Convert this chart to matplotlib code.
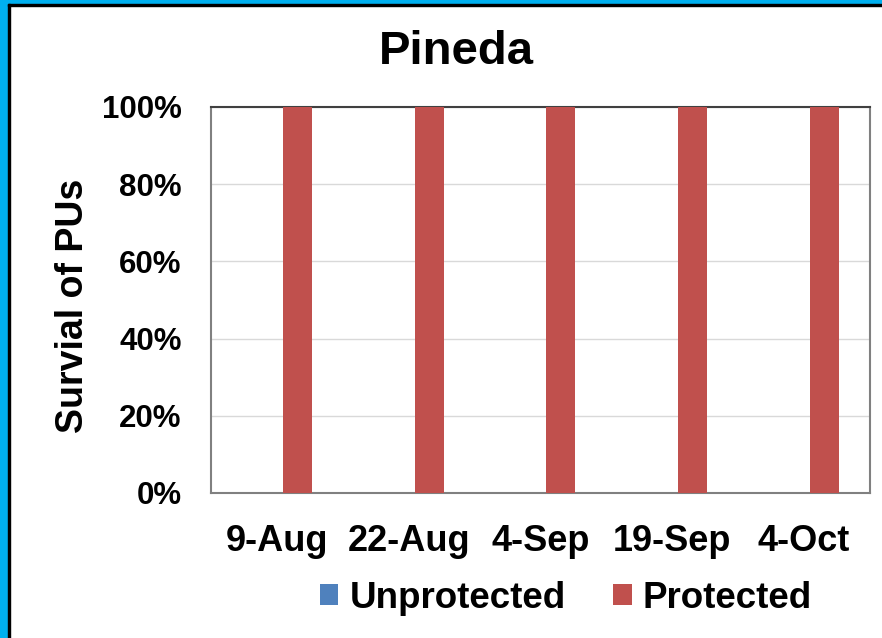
import numpy as np
import matplotlib

matplotlib.use("Agg")
from matplotlib import pyplot as plt
from matplotlib.patches import Rectangle
from matplotlib.ticker import PercentFormatter

dates = ["9-Aug", "22-Aug", "4-Sep", "19-Sep", "4-Oct"]
unprotected = [0, 0, 0, 0, 0]
protected = [100, 100, 100, 100, 100]

plt.rcParams['font.family'] = ['Liberation Sans', 'DejaVu Sans']
plt.rcParams['font.weight'] = 'bold'

fig = plt.figure(figsize=(8.82, 6.38), dpi=100)
W, H = 882, 638

# frame: cyan + black line on left and top only
fig.patches.append(Rectangle((0, 0), 8 / W, 1, transform=fig.transFigure,
                             color='#00b0f0', zorder=0))
fig.patches.append(Rectangle((0, 1 - 4 / H), 1, 4 / H, transform=fig.transFigure,
                             color='#00b0f0', zorder=0))
fig.patches.append(Rectangle((8 / W, 0), 2 / W, 1 - 4 / H, transform=fig.transFigure,
                             color='black', zorder=1))
fig.patches.append(Rectangle((8 / W, 1 - 6 / H), 1 - 8 / W, 2 / H, transform=fig.transFigure,
                             color='black', zorder=1))

ax = fig.add_axes([211 / W, (H - 493) / H, (870 - 211) / W, (493 - 107) / H])

x = np.arange(len(dates))
w = 0.22
off = 0.155
ax.bar(x - off, unprotected, w, color='#4f81bd', label='Unprotected', zorder=3)
ax.bar(x + off, protected, w, color='#c0504d', label='Protected', zorder=3)

ax.set_xlim(-0.5, len(dates) - 0.5)
ax.set_ylim(0, 100)
ax.set_yticks(np.arange(0, 101, 20))
ax.yaxis.set_major_formatter(PercentFormatter(decimals=0))
ax.set_xticks(x)
ax.set_xticklabels(dates)
ax.grid(axis='y', color='#d9d9d9', linewidth=1, zorder=0)
ax.tick_params(axis='both', length=0)
ax.tick_params(axis='x', labelsize=26, pad=22)
ax.tick_params(axis='y', labelsize=22.5, pad=21)
for s in ax.spines.values():
    s.set_color('#808080')
    s.set_linewidth(1.5)
ax.spines['top'].set_color('#404040')

fig.text(73 / W, 1 - 306 / H, 'Survial of PUs', rotation=90, fontsize=27,
         fontweight='bold', ha='center', va='center')
fig.text(456 / W, 1 - 52 / H, 'Pineda', fontsize=34, fontweight='bold',
         ha='center', va='center')

fig.legend(*ax.get_legend_handles_labels(), loc='center',
           bbox_to_anchor=(566 / W, 1 - 598 / H), ncol=2, frameon=False,
           fontsize=26.5, handlelength=0.5, handleheight=0.5, handletextpad=0.3,
           columnspacing=1.3, borderpad=0)

fig.savefig('out.png', dpi=100)
